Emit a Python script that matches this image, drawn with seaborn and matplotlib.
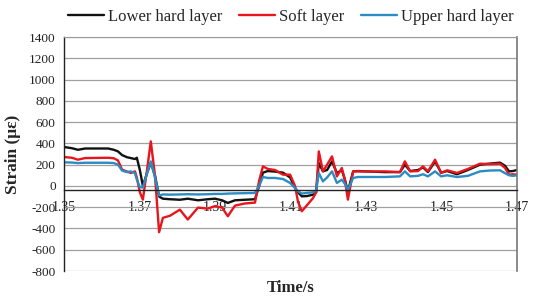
import numpy as np
import pandas as pd
import matplotlib
matplotlib.use("Agg")
import matplotlib.pyplot as plt
import seaborn as sns
from matplotlib.lines import Line2D

time_s = [1.3500, 1.3521, 1.3537, 1.3556, 1.3617, 1.3632, 1.3643, 1.3654, 1.3667, 1.3677,
          1.3688, 1.3693, 1.3701, 1.3709, 1.3720, 1.3730, 1.3741, 1.3752, 1.3762, 1.3781,
          1.3807, 1.3828, 1.3855, 1.3881, 1.3900, 1.3919, 1.3934, 1.3953, 1.3979, 1.4006,
          1.4017, 1.4027, 1.4040, 1.4059, 1.4080, 1.4099, 1.4112, 1.4120, 1.4130, 1.4144,
          1.4160, 1.4168, 1.4175, 1.4186, 1.4197, 1.4210, 1.4223, 1.4236, 1.4244, 1.4252,
          1.4266, 1.4279, 1.4311, 1.4350, 1.4390, 1.4403, 1.4417, 1.4438, 1.4451, 1.4464,
          1.4483, 1.4499, 1.4515, 1.4541, 1.4570, 1.4602, 1.4628, 1.4655, 1.4668, 1.4679,
          1.4689, 1.4700]

lower_hard = [366, 355, 340, 352, 352, 340, 325, 290, 270, 262,
              253, 265, 150, 0, 120, 219, 100, -100, -120, -125,
              -130, -120, -135, -125, -120, -135, -160, -135, -130, -125,
              0, 125, 140, 135, 125, 80, -19, -60, -98, -95,
              -82, -60, 216, 137, 150, 231, 120, 150, 60, -51,
              137, 140, 135, 130, 130, 200, 140, 150, 175, 130,
              230, 125, 140, 110, 150, 200, 210, 219, 190, 137,
              140, 150]

soft = [272, 265, 247, 262, 265, 260, 240, 153, 135, 122,
        137, 80, -60, -129, 150, 419, 100, -435, -300, -280,
        -223, -316, -204, -213, -190, -204, -285, -185, -165, -157,
        50, 184, 160, 150, 106, 106, 0, -150, -238, -180,
        -113, -60, 325, 137, 200, 278, 90, 169, 60, -129,
        137, 137, 135, 137, 130, 231, 137, 140, 184, 137,
        247, 122, 147, 122, 160, 209, 205, 209, 170, 106,
        110, 106]

upper_hard = [222, 220, 215, 218, 218, 215, 200, 144, 130, 137,
              120, 60, -10, -15, 120, 231, 80, -90, -80, -82,
              -80, -78, -80, -78, -75, -75, -72, -70, -68, -66,
              0, 84, 75, 75, 65, 28, -20, -50, -72, -65,
              -60, -40, 122, 43, 80, 137, 28, 59, 20, -35,
              75, 84, 84, 84, 90, 137, 90, 95, 110, 90,
              137, 90, 100, 84, 95, 137, 145, 147, 120, 100,
              95, 100]

series_names = ["Lower hard layer", "Soft layer", "Upper hard layer"]
x_ticks = [1.35, 1.37, 1.39, 1.41, 1.43, 1.45, 1.47]
x_tick_labels = ["1.35", "1.37", "1.39", "1.41", "1.43", "1.45", "1.47"]
y_ticks = [-800, -600, -400, -200, 0, 200, 400, 600, 800, 1000, 1200, 1400]

df = pd.DataFrame({
    "Time": time_s * 3,
    "Strain": lower_hard + soft + upper_hard,
    "Layer": [series_names[0]] * len(time_s) + [series_names[1]] * len(time_s)
             + [series_names[2]] * len(time_s),
})

sns.set_style("white")
plt.rcParams["font.family"] = ["Liberation Serif", "DejaVu Serif"]

fig = plt.figure(figsize=(5.33, 2.98), dpi=100)
ax = fig.add_axes([0.120, 0.0906, 0.850, 0.785])

palette = {series_names[0]: "#111111", series_names[1]: "#e8161c", series_names[2]: "#2b8cc4"}
sns.lineplot(data=df, x="Time", y="Strain", hue="Layer", palette=palette,
             linewidth=1.7, ax=ax, legend=False, sort=False)

ax.set_xlim(1.35, 1.47)
ax.set_ylim(-800, 1400)
ax.set_yticks(y_ticks)
ax.set_yticklabels([str(v) for v in y_ticks], fontsize=9.5)
ax.set_xticks(x_ticks)
ax.set_xticklabels(x_tick_labels, fontsize=9.5)
ax.grid(axis="y", color="#a0a0a0", linewidth=0.9)
ax.set_axisbelow(True)

ax.spines["bottom"].set_position(("data", -35))
ax.spines["bottom"].set_color("#222222")
ax.spines["bottom"].set_linewidth(1.0)
ax.spines["left"].set_color("#222222")
ax.spines["left"].set_linewidth(1.0)
ax.spines["top"].set_color("#999999")
ax.spines["right"].set_color("#777777")
ax.spines["right"].set_linewidth(1.2)

ax.tick_params(axis="y", direction="out", length=4, width=0.8, pad=2, colors="#222222")
ax.tick_params(axis="x", direction="in", length=5, width=0.8, pad=8, colors="#222222")

ax.set_xlabel("Time/s", fontsize=12, fontweight="bold")
ax.xaxis.set_label_coords(0.5, -0.04)
ax.set_ylabel("Strain (με)", fontsize=12.5, fontweight="bold")
ax.yaxis.set_label_coords(-0.095, 0.5)

handles = [Line2D([0], [0], color=palette[n], linewidth=1.7) for n in series_names]
fig.legend(handles, series_names, loc="upper center", bbox_to_anchor=(0.545, 1.02),
           ncol=3, frameon=False, fontsize=12, handlelength=2.2, handletextpad=0.2,
           columnspacing=1.0)

fig.savefig("out.png", dpi=100)
